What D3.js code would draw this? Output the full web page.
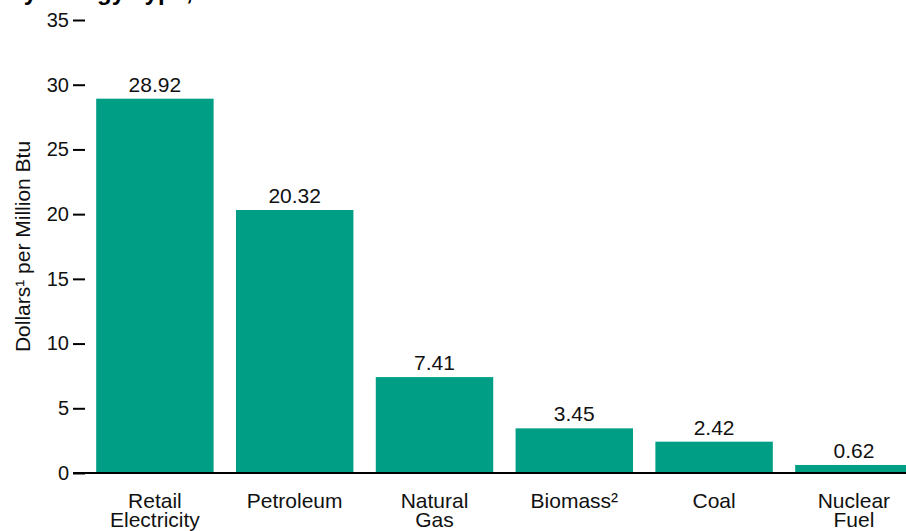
<!DOCTYPE html>
<html>
<head>
<meta charset="utf-8">
<script src="https://cdn.jsdelivr.net/npm/d3@7"></script>
<style>
  html, body { margin: 0; padding: 0; background: #fff; overflow: hidden; }
  svg { display: block; font-family: "Liberation Sans", Arial, sans-serif; }
</style>
</head>
<body>
<svg id="chart" width="906" height="531"></svg>
<script>
const titlePrefix = "Consumer Energy Prices";
const titleMain = "by Energy Type, 2010";
const categories = [["Retail", "Electricity"], ["Petroleum"], ["Natural", "Gas"], ["Biomass²"], ["Coal"], ["Nuclear", "Fuel"]];
const values = [28.92, 20.32, 7.41, 3.45, 2.42, 0.62];
const valueLabels = ["28.92", "20.32", "7.41", "3.45", "2.42", "0.62"];
const yTicks = [0, 5, 10, 15, 20, 25, 30, 35];
const yLabel = "Dollars¹ per Million Btu";

const svg = d3.select("#chart");
const W = 906, H = 531;
const barColor = "#009F85";
const FONT = "'Liberation Sans', Arial, sans-serif";

const x = d3.scaleBand()
  .domain(d3.range(categories.length))
  .range([85, 923.8])
  .paddingInner(0.16)
  .paddingOuter(0.08);

const y = d3.scaleLinear().domain([0, 35]).range([473, 20]);

// Title (mostly cut off at top)
const tg = svg.append("g").attr("font-size", 24).attr("font-weight", "bold").attr("fill", "#000");
tg.append("text").attr("x", 2).attr("y", -0.5).attr("text-anchor", "end").text(titlePrefix);
tg.append("text").attr("x", 9).attr("y", -0.5).attr("text-anchor", "start").text(titleMain);

// Bars
svg.append("g").selectAll("rect")
  .data(values)
  .join("rect")
  .attr("x", (d, i) => x(i))
  .attr("width", x.bandwidth())
  .attr("y", d => y(d))
  .attr("height", d => y(0) - y(d))
  .attr("fill", barColor);

// Value labels
svg.append("g").selectAll("text")
  .data(values)
  .join("text")
  .attr("x", (d, i) => x(i) + x.bandwidth() / 2)
  .attr("y", d => y(d) - 7)
  .attr("text-anchor", "middle")
  .attr("font-size", 21)
  .attr("fill", "#111")
  .text((d, i) => valueLabels[i]);

// Y axis
const yAxis = d3.axisLeft(y).tickValues(yTicks).tickSize(12).tickPadding(4).tickFormat(d3.format("d"));
const ag = svg.append("g").attr("transform", "translate(85,0)").call(yAxis);
ag.select(".domain").remove();
ag.selectAll(".tick line").attr("stroke", "#000").attr("stroke-width", 2);
ag.selectAll(".tick text").attr("font-size", 20).attr("fill", "#111")
  .attr("font-family", FONT);

// Baseline
svg.append("line")
  .attr("x1", 73).attr("x2", W)
  .attr("y1", y(0)).attr("y2", y(0))
  .attr("stroke", "#000").attr("stroke-width", 2);

// Category labels
const cg = svg.append("g").selectAll("text")
  .data(categories)
  .join("text")
  .attr("x", (d, i) => x(i) + x.bandwidth() / 2)
  .attr("y", 508)
  .attr("text-anchor", "middle")
  .attr("font-size", 21)
  .attr("fill", "#111");
cg.selectAll("tspan")
  .data(d => d)
  .join("tspan")
  .attr("x", function() { return this.parentNode.getAttribute("x"); })
  .attr("dy", (d, j) => j === 0 ? 0 : 19)
  .text(d => d);

// Y label
svg.append("text")
  .attr("transform", `translate(30,${y(17.5)}) rotate(-90)`)
  .attr("text-anchor", "middle")
  .attr("font-size", 21)
  .attr("fill", "#111")
  .text(yLabel);
</script>
</body>
</html>
